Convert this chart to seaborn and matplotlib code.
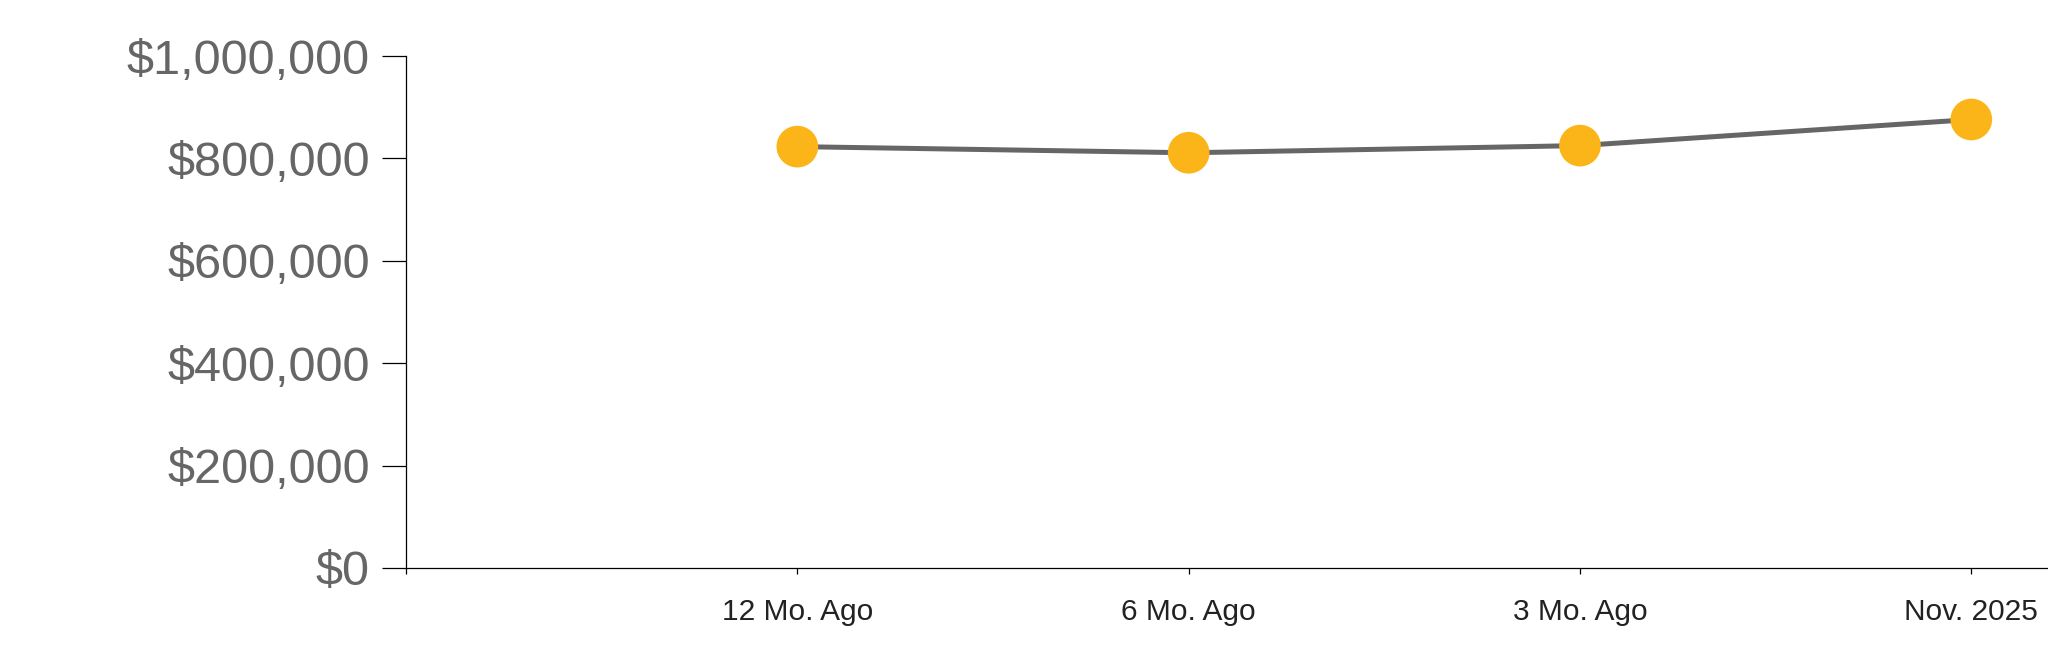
import matplotlib
matplotlib.use("Agg")
import matplotlib.pyplot as plt
import matplotlib.ticker as mticker
import seaborn as sns
import pandas as pd

# Data
periods = ["12 Mo. Ago", "6 Mo. Ago", "3 Mo. Ago", "Nov. 2025"]
values = [823000, 811000, 825000, 876000]
y_ticks = [0, 200000, 400000, 600000, 800000, 1000000]

df = pd.DataFrame({"period": periods, "value": values})

sns.set_style("ticks")
plt.rcParams["font.family"] = ["Liberation Sans", "DejaVu Sans"]

fig = plt.figure(figsize=(20.48, 6.63), dpi=100)
ax = fig.add_axes([406 / 2048, 1 - 568 / 663, 1 - 406 / 2048, (568 - 56) / 663])

sns.lineplot(data=df, x="period", y="value", ax=ax, color="#666666",
             linewidth=3.6, sort=False, zorder=2)
sns.scatterplot(data=df, x="period", y="value", ax=ax, color="#FBB518",
                s=900, edgecolor="none", zorder=3, legend=False)

ax.set_ylim(0, 1000000)
ax.set_xlim(-1, 3.196)
ax.set_yticks(y_ticks)
ax.yaxis.set_major_formatter(mticker.FuncFormatter(lambda v, p: f"${v:,.0f}"))
ax.set_xticks([-1, 0, 1, 2, 3])
ax.set_xticklabels([""] + periods)

ax.set_xlabel("")
ax.set_ylabel("")

for side in ["top", "right"]:
    ax.spines[side].set_visible(False)
for side in ["left", "bottom"]:
    ax.spines[side].set_color("black")
    ax.spines[side].set_linewidth(0.9)
ax.spines["bottom"].set_zorder(1)

ax.tick_params(axis="y", length=17, width=0.9, color="black", pad=9,
               labelsize=35, labelcolor="#666666")
ax.tick_params(axis="x", length=4.3, width=0.9, color="black", pad=17,
               labelsize=21.5, labelcolor="#222222")

fig.savefig("out.png", dpi=100)
